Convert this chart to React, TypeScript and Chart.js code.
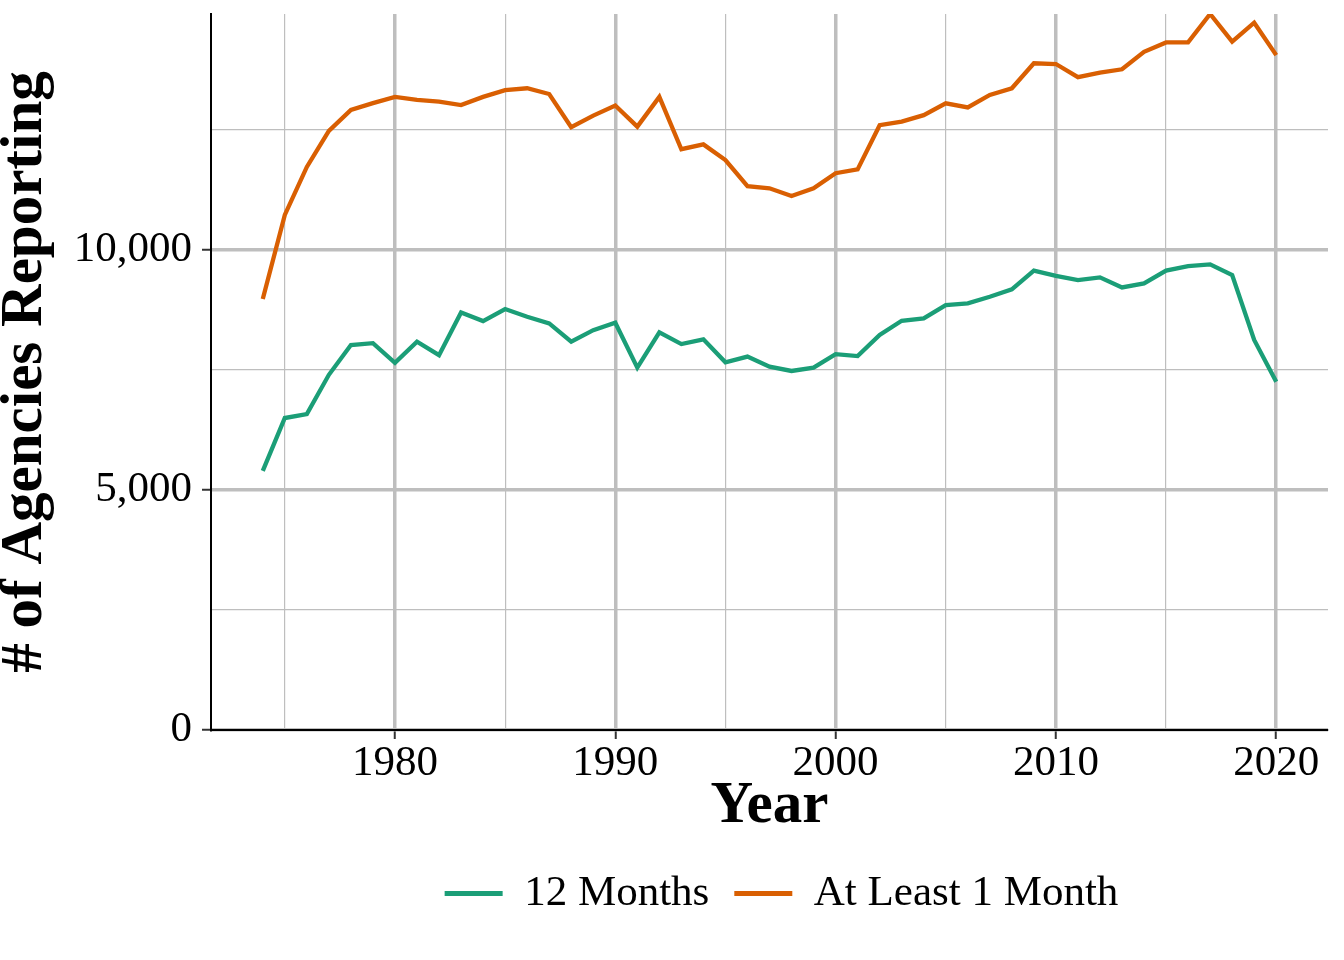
import React, { useEffect, useRef } from "react";
import { Chart, registerables } from "chart.js";

Chart.register(...registerables);

const years = [
  1974, 1975, 1976, 1977, 1978, 1979, 1980, 1981, 1982, 1983, 1984, 1985,
  1986, 1987, 1988, 1989, 1990, 1991, 1992, 1993, 1994, 1995, 1996, 1997,
  1998, 1999, 2000, 2001, 2002, 2003, 2004, 2005, 2006, 2007, 2008, 2009,
  2010, 2011, 2012, 2013, 2014, 2015, 2016, 2017, 2018, 2019, 2020,
];

const twelveMonths = [
  5400, 6500, 6580, 7400, 8020, 8060, 7650, 8090, 7810, 8700, 8520, 8770,
  8610, 8470, 8090, 8330, 8485, 7550, 8285, 8040, 8140, 7660, 7780, 7570,
  7480, 7550, 7830, 7790, 8230, 8525, 8575, 8850, 8890, 9025, 9180, 9570,
  9460, 9375, 9430, 9220, 9305, 9570, 9665, 9700, 9480, 8125, 7255,
];

const atLeastOneMonth = [
  8980, 10730, 11730, 12480, 12920, 13060, 13190, 13130, 13090, 13020, 13190,
  13330, 13370, 13250, 12560, 12800, 13010, 12570, 13190, 12100, 12200, 11875,
  11330, 11285, 11125, 11285, 11600, 11680, 12600, 12675, 12810, 13055, 12970,
  13230, 13370, 13890, 13875, 13600, 13695, 13765, 14130, 14325, 14325, 14917,
  14340, 14735, 14060,
];

const seriesLabels = ["12 Months", "At Least 1 Month"];
const seriesColors = ["#1B9E77", "#D95F02"];

const xTickValues = [1975, 1980, 1985, 1990, 1995, 2000, 2005, 2010, 2015, 2020];
const yTickValues = [0, 2500, 5000, 7500, 10000, 12500];

const FONT = "'Liberation Serif', 'Times New Roman', serif";

export default function App() {
  const ref = useRef<HTMLCanvasElement>(null);

  useEffect(() => {
    document.body.style.margin = "0";
    const canvas = ref.current;
    if (!canvas) return;
    Chart.defaults.font.family = FONT;

    const isMajorX = (v: number) => v % 10 === 0;
    const isMajorY = (v: number) => v % 5000 === 0;

    // centre the legend on the same point as the reference (panel + axis area)
    const legendShift = {
      id: "legendShift",
      afterLayout(c: any) {
        if (c.legend) {
          c.legend.left += 12;
          c.legend.right += 12;
        }
      },
    };

    const chart = new Chart(canvas, {
      type: "line",
      data: {
        datasets: [
          {
            label: seriesLabels[0],
            data: years.map((yr, i) => ({ x: yr, y: twelveMonths[i] })),
            borderColor: seriesColors[0],
            backgroundColor: seriesColors[0],
            borderWidth: 4.3,
            pointRadius: 0,
            tension: 0,
          },
          {
            label: seriesLabels[1],
            data: years.map((yr, i) => ({ x: yr, y: atLeastOneMonth[i] })),
            borderColor: seriesColors[1],
            backgroundColor: seriesColors[1],
            borderWidth: 4.3,
            pointRadius: 0,
            tension: 0,
          },
        ],
      },
      plugins: [legendShift],
      options: {
        responsive: false,
        animation: false,
        layout: { padding: { top: 14, right: 16, left: 0, bottom: 35 } },
        plugins: {
          tooltip: { enabled: false },
          legend: {
            position: "bottom",
            fullSize: false,
            labels: {
              boxWidth: 58,
              boxHeight: 5,
              padding: 25,
              color: "#000",
              font: { size: 43, family: FONT },
              generateLabels: (c: any) =>
                Chart.defaults.plugins.legend.labels
                  .generateLabels(c)
                  .map((it: any) => ({ ...it, lineWidth: 0 })),
            },
          },
        },
        scales: {
          x: {
            type: "linear",
            min: 1971.65,
            max: 2022.35,
            afterBuildTicks: (s: any) => {
              s.ticks = xTickValues.map((v) => ({ value: v }));
            },
            afterFit: (s: any) => {
              s.height = 117;
              s.paddingLeft = 0;
              s.paddingRight = 0;
            },
            grid: {
              color: "#BEBEBE",
              lineWidth: (c: any) => (c.tick && isMajorX(c.tick.value) ? 3.5 : 1.2),
              drawTicks: true,
              tickLength: 9,
              tickColor: (c: any) =>
                c.tick && isMajorX(c.tick.value) ? "#333333" : "rgba(0,0,0,0)",
              tickWidth: (c: any) => (c.tick && isMajorX(c.tick.value) ? 2 : 0),
            },
            border: { display: true, color: "#000", width: 2 },
            ticks: {
              color: "#000",
              padding: 3,
              maxRotation: 0,
              autoSkip: false,
              font: { size: 43, lineHeight: 1, family: FONT },
              callback: (v: any) => (isMajorX(Number(v)) ? String(v) : ""),
            },
            title: {
              display: true,
              text: "Year",
              color: "#000",
              font: { size: 59, weight: "bold", lineHeight: 1.2, family: FONT },
              padding: { top: 0, bottom: 4.6 },
            },
          },
          y: {
            type: "linear",
            min: 0,
            max: Math.max(...atLeastOneMonth),
            afterBuildTicks: (s: any) => {
              s.ticks = yTickValues.map((v) => ({ value: v }));
            },
            afterFit: (s: any) => {
              s.width = 211;
              s.paddingTop = 0;
              s.paddingBottom = 0;
            },
            grid: {
              color: "#BEBEBE",
              lineWidth: (c: any) => (c.tick && isMajorY(c.tick.value) ? 3.5 : 1.2),
              drawTicks: true,
              tickLength: 9,
              tickColor: (c: any) =>
                c.tick && isMajorY(c.tick.value) ? "#333333" : "rgba(0,0,0,0)",
              tickWidth: (c: any) => (c.tick && isMajorY(c.tick.value) ? 2 : 0),
            },
            border: { display: true, color: "#000", width: 2 },
            ticks: {
              color: "#000",
              padding: 10,
              autoSkip: false,
              font: { size: 43, family: FONT },
              callback: (v: any) =>
                isMajorY(Number(v)) ? Number(v).toLocaleString("en-US") : "",
            },
            title: {
              display: true,
              text: "# of Agencies Reporting",
              color: "#000",
              font: { size: 59, weight: "bold", lineHeight: 0.88, family: FONT },
              padding: 0,
            },
          },
        },
      },
    } as any);

    return () => chart.destroy();
  }, []);

  return (
    <canvas
      ref={ref}
      width={1344}
      height={960}
      style={{ display: "block", width: "1344px", height: "960px" }}
    />
  );
}
